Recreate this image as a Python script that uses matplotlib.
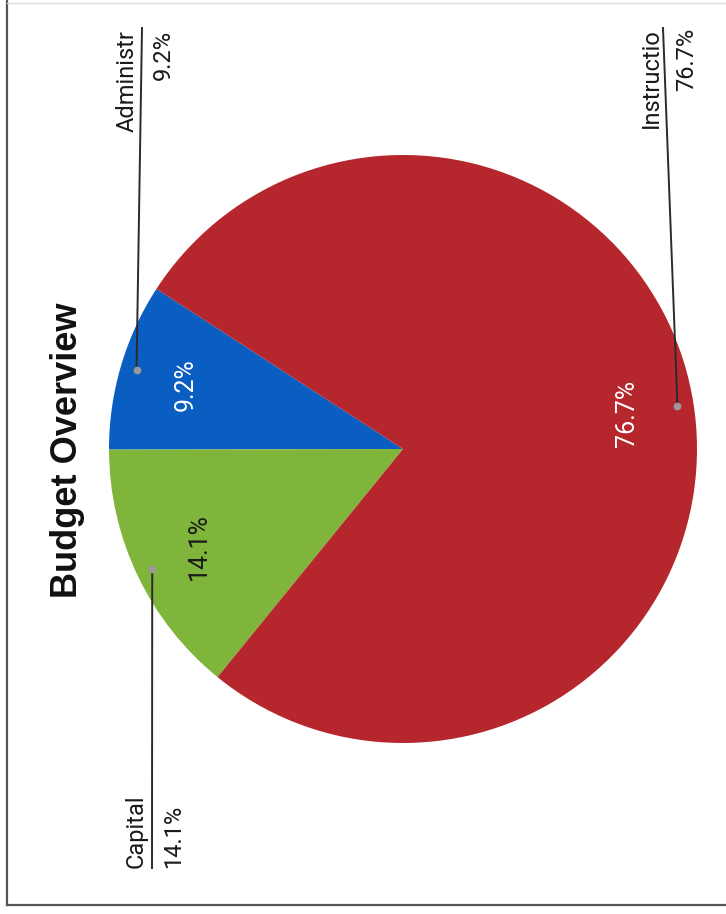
import numpy as np
import matplotlib
matplotlib.use("Agg")
import matplotlib.pyplot as plt

# ---- data ----
labels = ["Administr", "Capital", "Instructio"]
values = [9.2, 14.1, 76.7]
colors = ["#0B5EC1", "#80B53C", "#B5272D"]
pct_colors = ["white", "#1a1a1a", "white"]
title = "Budget Overview"

W, H = 726, 914
fig = plt.figure(figsize=(W / 100, H / 100), dpi=100)
ax = fig.add_axes([0, 0, 1, 1])

def Y(y):  # image row -> data y (y up)
    return H - y

cx, cy, R = 403, 449, 294
wedges, texts, autotexts = ax.pie(
    values, colors=colors, startangle=147, counterclock=True,
    center=(cx, Y(cy)), radius=R, frame=True,
    autopct="%1.1f%%", pctdistance=0.77,
    wedgeprops=dict(linewidth=0),
    textprops=dict(fontsize=18, family="Roboto", fontweight="normal"),
)
for t, c in zip(autotexts, pct_colors):
    t.set_rotation(90)
    t.set_color(c)

ax.set_xlim(0, W)
ax.set_ylim(0, H)
ax.set_aspect("equal")
ax.axis("off")

# leader lines, dots and labels
line_ends = {"Administr": (142, 28), "Capital": (152, 868), "Instructio": (663, 28)}
name_anchor = {"Administr": (134, 30, "right"), "Capital": (143, 868, "left"),
               "Instructio": (658, 28, "right")}
pct_anchor = {"Administr": (170, 30, "right"), "Capital": (180, 868, "left"),
              "Instructio": (693, 28, "right")}
for w, lab, v in zip(wedges, labels, values):
    mid = np.deg2rad((w.theta1 + w.theta2) / 2)
    dx = cx + 0.945 * R * np.cos(mid)
    dy = Y(cy) + 0.945 * R * np.sin(mid)
    ex, ey = line_ends[lab]
    ax.plot([dx, ex], [dy, Y(ey)], color="#2b2b2b", lw=1.4, zorder=3)
    ax.plot([dx], [dy], "o", color="#9a9a9a", ms=4.5, zorder=4)
    x, y, ha = name_anchor[lab]
    ax.text(x, Y(y), lab, rotation=90, rotation_mode="anchor", ha=ha, va="baseline",
            fontsize=17, family="Roboto", color="#1a1a1a")
    x, y, ha = pct_anchor[lab]
    ax.text(x, Y(y), f"{v:.1f}%", rotation=90, rotation_mode="anchor", ha=ha, va="baseline",
            fontsize=17, family="Roboto", color="#1a1a1a")

# title
ax.text(77, Y(450), title, rotation=90, rotation_mode="anchor", ha="center", va="baseline",
        fontsize=26, family="Liberation Sans", fontweight="bold", color="#111111")

# page frame
ax.plot([7, 7], [Y(0), Y(905)], color="#555555", lw=1.6)
ax.plot([7, W], [Y(905), Y(905)], color="#555555", lw=1.6)
ax.plot([7, W], [Y(3), Y(3)], color="#dddddd", lw=1.0)

fig.savefig("out.png", dpi=100)
